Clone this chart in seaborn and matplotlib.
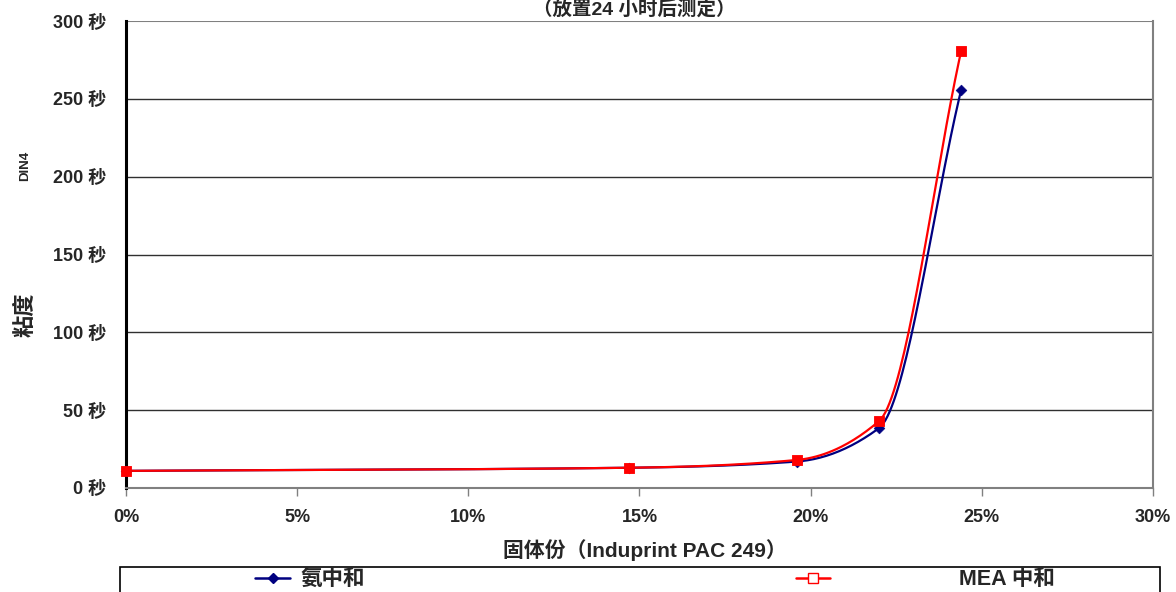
import numpy as np
import pandas as pd
import seaborn as sns
import matplotlib.pyplot as plt
from matplotlib.lines import Line2D
from matplotlib.patches import Rectangle

# solids content (%) and DIN4 viscosity (s)
solids = [0.0, 14.7, 19.6, 22.0, 24.4]
visc_ammonia = [11, 13, 17, 38.5, 256]
visc_mea = [11, 13, 18, 43, 281]
series_names = ["氨中和", "MEA 中和"]
x_ticks = [0, 5, 10, 15, 20, 25, 30]
y_ticks = [0, 50, 100, 150, 200, 250, 300]

sns.set_theme(style="white")
plt.rcParams['font.family'] = ['Liberation Sans', 'Noto Sans CJK SC', 'DejaVu Sans']
plt.rcParams['font.weight'] = 'bold'


def smooth(xs, ys, n=40):
    # monotone cubic (Fritsch-Carlson) so the drawn line is smooth without overshoot
    x = np.asarray(xs, float)
    y = np.asarray(ys, float)
    h = np.diff(x)
    d = np.diff(y) / h
    m = np.zeros_like(y)
    m[0], m[-1] = d[0], d[-1]
    for k in range(1, len(x) - 1):
        if d[k - 1] * d[k] > 0:
            w1 = 2 * h[k] + h[k - 1]
            w2 = h[k] + 2 * h[k - 1]
            m[k] = (w1 + w2) / (w1 / d[k - 1] + w2 / d[k])
    ox, oy = [], []
    for k in range(len(x) - 1):
        t = np.linspace(0, 1, n)
        h00 = 2 * t ** 3 - 3 * t ** 2 + 1
        h10 = t ** 3 - 2 * t ** 2 + t
        h01 = -2 * t ** 3 + 3 * t ** 2
        h11 = t ** 3 - t ** 2
        ox.append(x[k] + t * h[k])
        oy.append(h00 * y[k] + h10 * h[k] * m[k] + h01 * y[k + 1] + h11 * h[k] * m[k + 1])
    return np.concatenate(ox), np.concatenate(oy)


colors = {series_names[0]: "#000080", series_names[1]: "#ff0000"}
markers = {series_names[0]: ("D", 30), series_names[1]: ("s", 60)}

fig = plt.figure(figsize=(11.76, 5.92), dpi=100)
ax = fig.add_axes([0.1071, 0.1757, 0.8733, 0.7888])

for name, vals in zip(series_names, [visc_ammonia, visc_mea]):
    cx, cy = smooth(solids, vals)
    curve = pd.DataFrame({"x": cx, "y": cy})
    sns.lineplot(data=curve, x="x", y="y", estimator=None, sort=False,
                 color=colors[name], linewidth=1.6, ax=ax)
    pts = pd.DataFrame({"x": solids, "y": vals})
    m, s = markers[name]
    sns.scatterplot(data=pts, x="x", y="y", color=colors[name], marker=m, s=s,
                    edgecolor=colors[name], ax=ax, zorder=3, clip_on=False)

ax.set_xlim(0, 30)
ax.set_ylim(0, 300)
ax.set_xticks(x_ticks)
ax.set_xticklabels([f"{v}%" for v in x_ticks], fontsize=13, fontweight="bold")
ax.set_yticks(y_ticks)
ax.set_yticklabels([f"{v} 秒" for v in y_ticks], fontsize=13, fontweight="bold")
ax.tick_params(axis="x", direction="out", length=6, width=1, color="#808080", pad=9, bottom=True)
ax.tick_params(axis="y", length=0, pad=14)
ax.set_xlabel("")
ax.set_ylabel("")

for v in y_ticks[1:-1]:
    ax.axhline(v, color="#303030", linewidth=1, zorder=0)
ax.axhline(300, color="#808080", linewidth=1.5, zorder=0)

ax.spines["left"].set_color("black")
ax.spines["left"].set_linewidth(2.2)
for side in ["bottom", "right"]:
    ax.spines[side].set_color("#808080")
    ax.spines[side].set_linewidth(1.5)
ax.spines["top"].set_visible(False)

fig.text(0.539, 0.985, "（放置24 小时后测定）", ha="center", va="center", fontsize=14, fontweight="bold")
fig.text(0.548, 0.071, "固体份（Induprint PAC 249）", ha="center", va="center", fontsize=15, fontweight="bold")
fig.text(0.022, 0.468, "粘度", ha="center", va="center", rotation=90, fontsize=16, fontweight="bold")
fig.text(0.021, 0.72, "DIN4", ha="center", va="center", rotation=90, fontsize=9.5, fontweight="bold")

h_amm = Line2D([], [], color=colors[series_names[0]], marker="D", markersize=5, linewidth=1.8)
h_mea = Line2D([], [], color=colors[series_names[1]], marker="s", markersize=7, linewidth=1.8,
               markerfacecolor="white")
leg1 = fig.legend([h_amm], [series_names[0]], loc="center left", frameon=False,
                  bbox_to_anchor=(0.2007, 0.021), prop={"size": 15.5, "weight": "bold"},
                  handlelength=1.6, handletextpad=0.5)
leg2 = fig.legend([h_mea], [series_names[1]], loc="center left", frameon=False,
                  bbox_to_anchor=(0.66, 0.021), prop={"size": 15.5, "weight": "bold"},
                  handlelength=1.6, handletextpad=6.0)
fig.patches.append(Rectangle((0.102, -0.05), 0.884, 0.093, transform=fig.transFigure,
                             fill=False, edgecolor="black", linewidth=1.2))

fig.savefig("out.png", dpi=100)
